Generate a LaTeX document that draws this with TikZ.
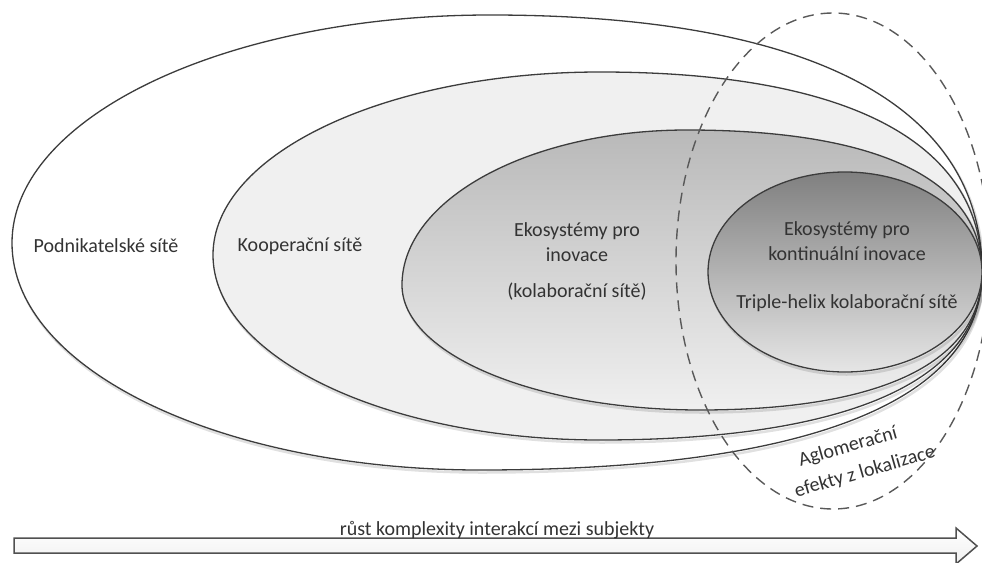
\documentclass[tikz,border=0pt]{standalone}
\usepackage{fontspec}
\setmainfont{Carlito}
\definecolor{edge}{HTML}{3C3C3C}
\definecolor{ink}{HTML}{333333}
\definecolor{softgray}{HTML}{F0F0F0}
\begin{document}
\begin{tikzpicture}[x=1pt,y=-1pt,
  rim/.style={draw=edge,line width=1.3pt},
  halo/.style={draw=black,line width=2.5pt,opacity=0.12,shift={(1.5,2.5)}},
  lbl/.style={text=ink,font=\fontsize{20}{25}\selectfont,align=center,inner sep=0pt},
  zone/.style={draw=edge!85,line width=1.4pt,dash pattern=on 11pt off 7pt},
  flowarrow/.style={draw=edge!90,line width=1.5pt,top color=white,bottom color=softgray,line join=miter}
]
\clip (0,0) rectangle (982,562);

% podnikatelské sítě
\def\outerpath{(12,243) .. controls (12,117) and (226,15) .. (490,15)
           .. controls (810,15) and (982,105) .. (982,272)
           .. controls (982,402) and (806,470) .. (480,470)
           .. controls (222,470) and (12,370) .. cycle}
\path[halo] \outerpath;
\path[rim,fill=white] \outerpath;

% kooperační sítě
\def\cooppath{(213,255) .. controls (213,154) and (386,72) .. (600,72)
            .. controls (848,72) and (982,142) .. (982,272)
            .. controls (982,381) and (848,440) .. (600,440)
            .. controls (386,440) and (213,357) .. cycle}
\path[halo] \cooppath;
\path[rim,fill=softgray] \cooppath;

% ekosystémy pro inovace
\def\ecopath{(402,285) .. controls (402,199) and (530,130) .. (687,130)
            .. controls (879,130) and (982,180) .. (982,272)
            .. controls (982,362) and (883,410) .. (700,410)
            .. controls (535,410) and (402,354) .. cycle}
\path[halo] \ecopath;
\path[rim,top color=gray!55,bottom color=gray!12] \ecopath;

% ekosystémy pro kontinuální inovace
\path[halo] (845,272) ellipse [x radius=137, y radius=100];
\path[rim,top color=gray!100,bottom color=gray!20]
  (845,272) ellipse [x radius=137, y radius=100];

% aglomerační efekty
\draw[zone] (833,261) ellipse [x radius=157, y radius=248];

\node[lbl] (podnik) at (106,246) {Podnikatelské sítě};
\node[lbl] (koop) at (300,246) {Kooperační sítě};
\node[lbl] (eko) at (577,242) {Ekosystémy pro\\inovace};
\node[lbl] (kolab) at (577,292) {(kolaborační sítě)};
\node[lbl] (kont) at (847,241) {Ekosystémy pro\\kontinuální inovace};
\node[lbl] (triple) at (847,303) {Triple-helix kolaborační sítě};
\node[lbl,rotate=16] (aglo) at (848,447) {Aglomerační};
\node[lbl,rotate=16] (efekty) at (865,472) {efekty z lokalizace};

% osa růstu
\path[flowarrow] (14,538) -- (956,538) -- (956,528) -- (977,546) -- (956,564)
  -- (956,553) -- (14,553) -- cycle;
\node[lbl,anchor=base] (rust) at (497,535) {růst komplexity interakcí mezi subjekty};
\end{tikzpicture}
\end{document}
